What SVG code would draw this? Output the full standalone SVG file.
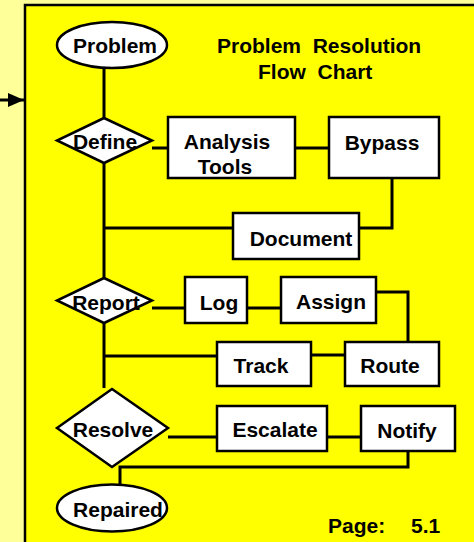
<svg xmlns="http://www.w3.org/2000/svg" width="474" height="542" viewBox="0 0 474 542">
  <style>
    .shape { fill: #ffffff; stroke: #000000; stroke-width: 2.5; }
    .wire { fill: none; stroke: #000000; stroke-width: 3; }
    text { font-family: "Liberation Sans", Arial, sans-serif; font-weight: bold; font-size: 21px; fill: #000000; }
    .mid { text-anchor: middle; }
    .pre { white-space: pre; }
  </style>
  <defs>
    <marker id="arrowhead" markerWidth="16" markerHeight="14" refX="16" refY="7" orient="auto" markerUnits="userSpaceOnUse">
      <path d="M0,0 L16,7 L0,14 Z" fill="#000000"/>
    </marker>
  </defs>

  <!-- page background and chart panel -->
  <rect x="0" y="0" width="474" height="542" fill="#ffff99"/>
  <rect x="25" y="5" width="460" height="550" fill="#ffff00" stroke="#000000" stroke-width="2.5"/>

  <!-- entry arrow -->
  <line x1="0" y1="100" x2="24" y2="100" stroke="#000000" stroke-width="3" marker-end="url(#arrowhead)"/>

  <!-- title -->
  <g id="title">
    <text class="pre" x="217" y="53">Problem  Resolution</text>
    <text class="pre" x="258" y="79">Flow  Chart</text>
  </g>

  <!-- connectors -->
  <g id="connectors">
    <line class="wire" x1="104" y1="68" x2="104" y2="118"/>
    <line class="wire" x1="104" y1="163" x2="104" y2="278"/>
    <line class="wire" x1="104" y1="323" x2="104" y2="388"/>
    <line class="wire" x1="152" y1="148" x2="168" y2="148"/>
    <line class="wire" x1="295" y1="148" x2="329" y2="148"/>
    <polyline class="wire" points="392,178 392,228 359,228"/>
    <line class="wire" x1="104" y1="228" x2="233" y2="228"/>
    <line class="wire" x1="152" y1="308" x2="185" y2="308"/>
    <line class="wire" x1="247" y1="308" x2="281" y2="308"/>
    <polyline class="wire" points="376,292 408,292 408,342"/>
    <line class="wire" x1="104" y1="356" x2="217" y2="356"/>
    <line class="wire" x1="311" y1="355" x2="345" y2="355"/>
    <line class="wire" x1="168" y1="437" x2="217" y2="437"/>
    <line class="wire" x1="327" y1="437" x2="361" y2="437"/>
    <polyline class="wire" points="408,451 408,467 120,467 120,485"/>
  </g>

  <!-- nodes -->
  <g id="problem">
    <ellipse class="shape" cx="112" cy="45" rx="55" ry="23"/>
    <text class="mid" x="115" y="53">Problem</text>
  </g>

  <g id="define">
    <polygon class="shape" points="104,118 152,140.5 104,163 57,140.5"/>
    <text class="mid" x="105" y="149">Define</text>
  </g>

  <g id="analysis-tools">
    <rect class="shape" x="168" y="117" width="127" height="61"/>
    <text class="mid" x="227" y="149">Analysis</text>
    <text class="mid" x="225" y="174">Tools</text>
  </g>

  <g id="bypass">
    <rect class="shape" x="329" y="117" width="110" height="61"/>
    <text class="mid" x="382" y="150">Bypass</text>
  </g>

  <g id="document">
    <rect class="shape" x="233" y="213" width="126" height="46"/>
    <text class="mid" x="301" y="246">Document</text>
  </g>

  <g id="report">
    <polygon class="shape" points="104,278 152,300.5 104,323 57,300.5"/>
    <text class="mid" x="106" y="310">Report</text>
  </g>

  <g id="log">
    <rect class="shape" x="185" y="277" width="62" height="46"/>
    <text class="mid" x="219" y="310">Log</text>
  </g>

  <g id="assign">
    <rect class="shape" x="281" y="277" width="95" height="46"/>
    <text class="mid" x="331" y="309">Assign</text>
  </g>

  <g id="track">
    <rect class="shape" x="217" y="342" width="94" height="44"/>
    <text class="mid" x="261" y="373">Track</text>
  </g>

  <g id="route">
    <rect class="shape" x="345" y="342" width="94" height="44"/>
    <text class="mid" x="390" y="373">Route</text>
  </g>

  <g id="resolve">
    <polygon class="shape" points="112,389 168,428 112,467 57,428"/>
    <text class="mid" x="113" y="437">Resolve</text>
  </g>

  <g id="escalate">
    <rect class="shape" x="217" y="406" width="110" height="45"/>
    <text class="mid" x="275" y="437">Escalate</text>
  </g>

  <g id="notify">
    <rect class="shape" x="361" y="406" width="94" height="45"/>
    <text class="mid" x="407" y="438">Notify</text>
  </g>

  <g id="repaired">
    <ellipse class="shape" cx="112" cy="508" rx="55" ry="23.5"/>
    <text class="mid" x="118" y="517">Repaired</text>
  </g>

  <!-- page number -->
  <text x="328" y="533" font-size="23" word-spacing="20">Page: 5.1</text>
</svg>
